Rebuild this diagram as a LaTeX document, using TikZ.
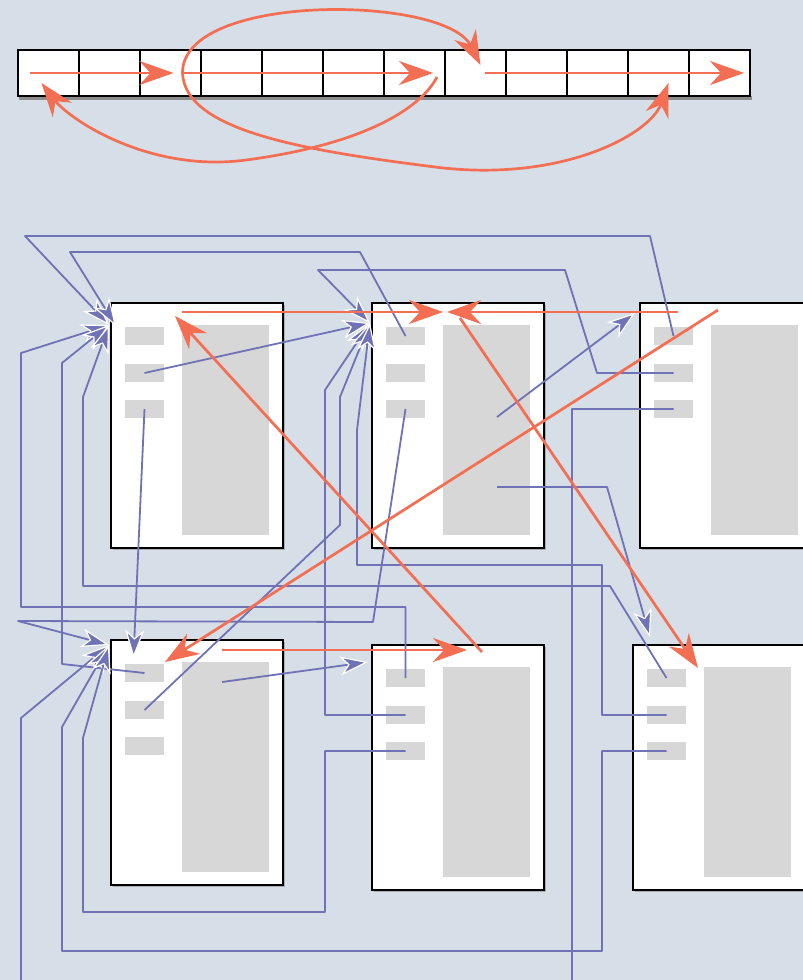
\documentclass[tikz,border=0pt]{standalone}
\usepackage{xcolor}
\usepackage{tikz}
\usetikzlibrary{arrows.meta, calc, shadows}
\definecolor{backdrop}{RGB}{214,222,231}
\definecolor{linkBlue}{RGB}{112,114,182}
\definecolor{jumpRed}{RGB}{243,110,82}
\definecolor{paperGray}{RGB}{215,215,215}
\tikzset{
  pageNode/.style={
    draw=black,
    line width=2.4pt,
    fill=white,
    inner sep=0pt,
    outer sep=0pt,
    anchor=north west,
    minimum width=172pt,
    minimum height=245pt,
    drop shadow={shadow xshift=2pt, shadow yshift=-2pt, opacity=0.5}
  },
  itemNode/.style={fill=paperGray, inner sep=0pt, outer sep=0pt, anchor=north west, minimum width=39pt, minimum height=18pt},
  textNode/.style={fill=paperGray, inner sep=0pt, outer sep=0pt, anchor=north west, minimum width=87pt, minimum height=210pt},
  cellNode/.style={draw=black, line width=1.8pt, fill=white, inner sep=0pt, outer sep=0pt, anchor=north west, minimum width=61pt, minimum height=46pt},
  linkFlow/.style={draw=linkBlue, line width=1.8pt, line join=round,
    -{Stealth[length=28pt, width=19pt, inset=8pt, color=white, fill=linkBlue, line width=1.2pt]}},
  jumpFlow/.style={draw=jumpRed, line width=2.7pt, -{Stealth[length=34pt, width=24pt, inset=11pt]}}
}

\begin{document}
\begin{tikzpicture}[x=1pt, y=-1pt]
  \useasboundingbox (0,0) rectangle (803,980);
  \fill[backdrop] (0,0) rectangle (803,980);
  \clip (0,0) rectangle (803,980);

  % strip of cells
  \fill[black!45] (19,96) rectangle (752,99.5);
  \foreach \i in {0,...,11}
    \node[cellNode] (cell\i) at ({18+61*\i},50) {};
  \coordinate (loopStart) at ($(cell2.center)+(12,0)$);

  \draw[jumpFlow] ($(cell0.west)+(12,0)$) -- ($(cell2.center)+(3,0)$);
  \draw[jumpFlow] (loopStart) -- ($(cell6.east)+(-12,0)$);
  \draw[jumpFlow] ($(cell7.center)+(9,0)$) -- ($(cell11.east)+(-6,0)$);
  \draw[jumpFlow] ($(cell6.east)+(-8,4)$) .. controls (420,110) and (360,145) .. (246,160)
    .. controls (150,173) and (70,120) .. ($(cell0.center)+(-7,10)$);
  \draw[jumpFlow] (loopStart) .. controls (182,-8) and (445,-5) .. ($(cell7.center)+(5,-8)$);
  \draw[jumpFlow] (loopStart) .. controls (185,130) and (300,150) .. (435,167)
    .. controls (560,183) and (650,135) .. ($(cell10.center)+(10,10)$);

  % pages
  \foreach \p/\px/\py in {A/111/303, B/372/303, C/640/303, D/111/640, E/372/645, F/633/645} {
    \node[pageNode] (page\p) at (\px,\py) {};
    \node[itemNode] (item\p1) at ($(page\p.north west)+(14,24)$) {};
    \node[itemNode] (item\p2) at ($(page\p.north west)+(14,61)$) {};
    \node[itemNode] (item\p3) at ($(page\p.north west)+(14,97)$) {};
    \node[textNode] (text\p) at ($(page\p.north west)+(71,22)$) {};
  }

  \coordinate (portA) at ($(pageA.north west)+(-2,22)$);
  \coordinate (portB) at ($(pageB.north west)+(-2,20)$);
  \coordinate (portC) at ($(pageC.north west)+(-5,10)$);
  \coordinate (portD) at ($(pageD.north west)+(-2,5)$);
  \coordinate (portE) at ($(pageE.north west)+(-4,17)$);
  \coordinate (portF) at ($(pageF.north west)+(17,-8)$);
  \coordinate (refB1) at ($(textB.north west)+(54,92)$);
  \coordinate (refB2) at ($(textB.north west)+(54,162)$);
  \coordinate (refD) at ($(textD.north west)+(40,20)$);

  % links into page A
  \draw[linkFlow] (itemC1.center) -- (650,236) -- (25,236) -- (portA);
  \draw[linkFlow] (itemB1.center) -- (360,252) -- (70,252) -- ($(portA)+(7,1)$);
  \draw[linkFlow] (itemE1.center) |- (21,607) -- (21,353) -- (portA);
  \draw[linkFlow] (itemD1.center) -- (62,664) -- (62,363) -- (portA);
  \draw[linkFlow] (itemF1.center) -- (610,586) -- (83,586) -- (83,397) -- (portA);

  % links into page B
  \draw[linkFlow] (itemC2.center) -- (597,373) -- (565,270) -- (318,270) -- (portB);
  \draw[linkFlow] (itemA2.center) -- (portB);
  \draw[linkFlow] (itemE2.center) -| (325,390) -- (portB);
  \draw[linkFlow] (itemD2.center) -- (340,525) -- (340,397) -- (portB);
  \draw[linkFlow] (itemF2.center) -| (602,565) -| (357,430) -- (portB);

  % links into page D
  \draw[linkFlow] (itemB3.center) -- (373,622) -- (18,621) -- (portD);
  \draw[linkFlow] (itemC3.center) -| (572,995) -| (21,718) -- (portD);
  \draw[linkFlow] (itemF3.center) -| (602,951) -| (62,727) -- (portD);
  \draw[linkFlow] (itemE3.center) -| (325,912) -| (83,738) -- (portD);
  \draw[linkFlow] (itemA3.center) -- ($(itemD1.north)+(-11,-6)$);

  % links out of the text
  \draw[linkFlow] (refB1) -- (portC);
  \draw[linkFlow] (refB2) -- (607,487) -- (portF);
  \draw[linkFlow] (refD) -- (portE);

  % jumps
  \draw[jumpFlow] ($(pageA.north west)+(71,9)$) -- ($(pageB.north west)+(71,9)$);
  \draw[jumpFlow] ($(pageC.north west)+(38,9)$) -- ($(pageB.north west)+(75,9)$);
  \draw[jumpFlow] ($(pageB.north west)+(88,15)$) -- ($(pageF.north west)+(65,23)$);
  \draw[jumpFlow] ($(pageC.north west)+(78,7)$) -- ($(pageD.north west)+(54,22)$);
  \draw[jumpFlow] ($(pageE.north west)+(110,7)$) -- ($(pageA.north west)+(64,13)$);
  \draw[jumpFlow] ($(pageD.north west)+(111,10)$) -- ($(pageE.north west)+(95,5)$);
\end{tikzpicture}
\end{document}
